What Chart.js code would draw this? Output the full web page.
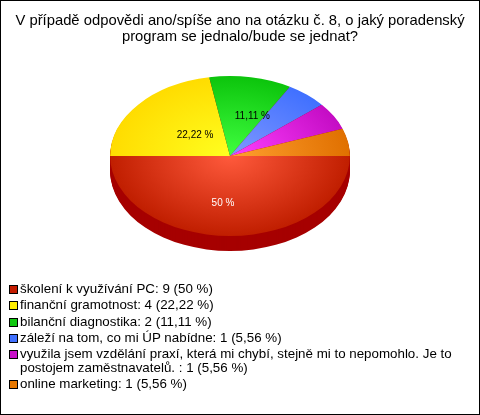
<!DOCTYPE html>
<html lang="cs">
<head>
    <meta charset="UTF-8">
    <title>Poradenský program</title>
    <script src="https://cdn.jsdelivr.net/npm/chart.js"></script>
    <style>
        html, body { margin: 0; padding: 0; background: #ffffff; }
        #wrap {
            position: relative;
            width: 480px;
            height: 415px;
            overflow: hidden;
        }
        #wrap::after {
            content: '';
            position: absolute;
            inset: 0;
            border: 1px solid #000000;
            pointer-events: none;
        }
        canvas { position: absolute; left: 0; top: 0; }
        #legend {
            position: absolute;
            left: 9px;
            top: 282px;
            width: 462px;
            font: 13.35px/14px 'Liberation Sans', Arial, sans-serif;
            color: #000000;
        }
        .item { position: relative; padding-left: 11px; margin-bottom: 2.3px; }
        .swatch {
            position: absolute;
            left: 0;
            top: 3px;
            width: 7px;
            height: 7px;
            border: 1px solid #000000;
        }
    </style>
</head>
<body>
    <div id="wrap">
        <canvas id="pie" width="480" height="415"></canvas>
        <div id="legend"></div>
    </div>

    <script>
        const titleLines = ['V případě odpovědi ano/spíše ano na otázku č. 8, o jaký poradenský', 'program se jednalo/bude se jednat?'];
        const categories = [
            'školení k využívání PC',
            'finanční gramotnost',
            'bilanční diagnostika',
            'záleží na tom, co mi ÚP nabídne',
            'využila jsem vzdělání praxí, která mi chybí, stejně mi to nepomohlo. Je to postojem zaměstnavatelů. ',
            'online marketing'
        ];
        const counts = [9, 4, 2, 1, 1, 1];
        const percents = ['50 %', '22,22 %', '11,11 %', '5,56 %', '5,56 %', '5,56 %'];
        const sliceLabels = ['50 %', '22,22 %', '11,11 %', '', '', ''];
        const labelColors = ['#ffffff', '#000000', '#000000', '#000000', '#000000', '#000000'];
        const innerColors = ['#ff5a3c', '#ffff20', '#40ff40', '#8098ff', '#ff40ff', '#ffa030'];
        const outerColors = ['#c01e00', '#ffdc00', '#0cc40c', '#4070ff', '#c40cc4', '#e07000'];
        const swatchColors = ['#c41c00', '#ffee00', '#10c810', '#4070ff', '#c810c8', '#e87800'];

        // the library only draws round pies, so squash it and shift it into place
        const pieX = 230, pieY = 156, squash = 2 / 3, depth = 15;
        const depthColor = '#a60000';
        const labelNudge = [[-7, 7], [11, 5], [12, 0], [0, 0], [0, 0], [0, 0]];

        function squashCtx(ctx, el, offset) {
            ctx.translate(pieX, pieY + offset);
            ctx.scale(1, squash);
            ctx.translate(-el.x, -el.y);
        }

        const tiltPlugin = {
            id: 'tilt',
            beforeDatasetsDraw(chart) {
                const ctx = chart.ctx;
                const arcs = chart.getDatasetMeta(0).data;
                ctx.save();
                arcs.forEach(el => {
                    const real = el.options;
                    el.options = Object.assign(Object.create(real), { backgroundColor: depthColor, borderWidth: 0 });
                    for (let d = depth; d > 0; d--) {
                        ctx.save();
                        squashCtx(ctx, el, d);
                        el.draw(ctx);
                        ctx.restore();
                    }
                    el.options = real;
                });
                ctx.restore();
                ctx.save();
                squashCtx(ctx, arcs[0], 0);
            },
            afterDatasetsDraw(chart) {
                const ctx = chart.ctx;
                ctx.restore();
                ctx.save();
                ctx.font = "10px 'Liberation Sans', Arial, sans-serif";
                ctx.textAlign = 'center';
                ctx.textBaseline = 'middle';
                chart.getDatasetMeta(0).data.forEach((el, i) => {
                    if (!sliceLabels[i]) return;
                    const p = el.getCenterPoint();
                    ctx.fillStyle = labelColors[i];
                    ctx.fillText(sliceLabels[i],
                        pieX + (p.x - el.x) + labelNudge[i][0],
                        pieY + (p.y - el.y) * squash + labelNudge[i][1]);
                });
                ctx.restore();
            }
        };

        new Chart(document.getElementById('pie').getContext('2d'), {
            type: 'pie',
            plugins: [tiltPlugin],
            data: {
                labels: categories,
                datasets: [{
                    data: counts,
                    borderWidth: 0,
                    backgroundColor(c) {
                        const area = c.chart.chartArea;
                        if (!area) return innerColors[c.dataIndex];
                        const x = (area.left + area.right) / 2, y = (area.top + area.bottom) / 2;
                        const g = c.chart.ctx.createRadialGradient(x, y, 0, x, y, 120);
                        g.addColorStop(0, innerColors[c.dataIndex]);
                        g.addColorStop(1, outerColors[c.dataIndex]);
                        return g;
                    }
                }]
            },
            options: {
                responsive: false,
                animation: false,
                rotation: 90,
                layout: { padding: { bottom: 130 } },
                plugins: {
                    legend: { display: false },
                    tooltip: { enabled: false },
                    title: {
                        display: true,
                        text: titleLines,
                        color: '#000000',
                        font: { family: "'Liberation Sans', Arial, sans-serif", size: 14.8, weight: 'normal', lineHeight: 1.09 },
                        padding: { top: 13, bottom: 0 }
                    }
                }
            }
        });

        const legend = document.getElementById('legend');
        categories.forEach((name, i) => {
            const item = document.createElement('div');
            item.className = 'item';
            const swatch = document.createElement('span');
            swatch.className = 'swatch';
            swatch.style.background = swatchColors[i];
            item.appendChild(swatch);
            item.appendChild(document.createTextNode(name + ': ' + counts[i] + ' (' + percents[i] + ')'));
            legend.appendChild(item);
        });
    </script>
</body>
</html>
